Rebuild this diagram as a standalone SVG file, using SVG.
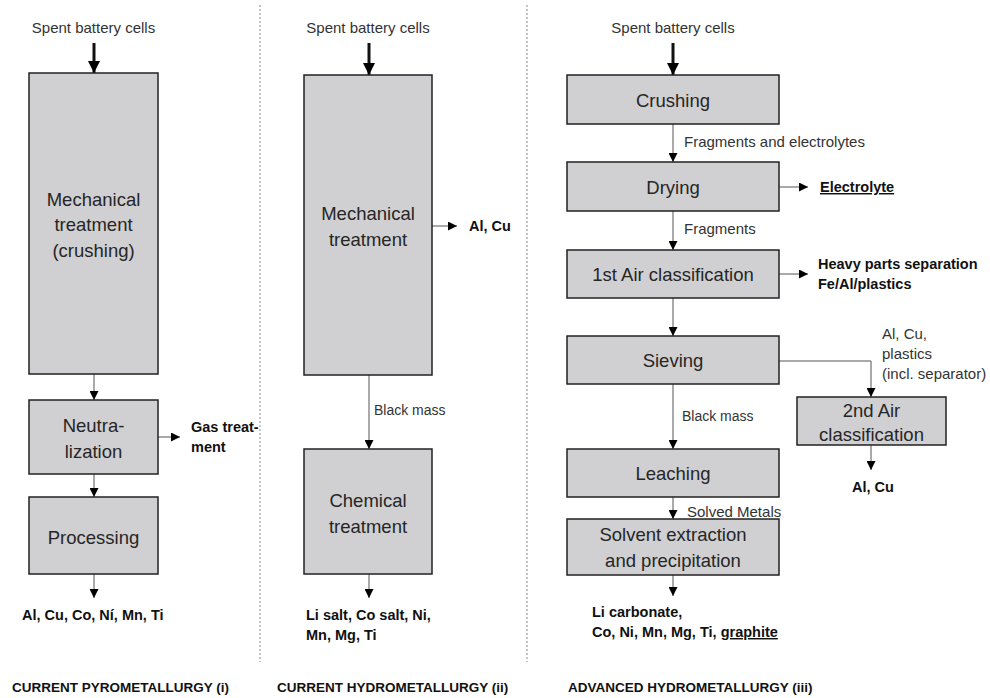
<svg xmlns="http://www.w3.org/2000/svg" width="990" height="698" viewBox="0 0 990 698">
<style>
.box{fill:#d0cfd1;stroke:#222;stroke-width:1.5}
.bt{font-family:"Liberation Sans",Arial,sans-serif;font-size:18.5px;fill:#262626;text-anchor:middle}
.lb{font-family:"Liberation Sans",Arial,sans-serif;font-size:15px;fill:#333}
.bd{font-family:"Liberation Sans",Arial,sans-serif;font-size:14.5px;font-weight:bold;fill:#111}
.hd{font-family:"Liberation Sans",Arial,sans-serif;font-size:13.5px;font-weight:bold;fill:#111}
.ln{fill:none;stroke:#555;stroke-width:1}
.tk{fill:none;stroke:#111;stroke-width:3}
.sep{stroke:#8a8a8a;stroke-width:1;stroke-dasharray:2 2}
</style>
<defs>
<marker id="ah" viewBox="0 0 10 10" refX="10" refY="5" markerWidth="9" markerHeight="9" markerUnits="userSpaceOnUse" orient="auto"><path d="M0,0 L10,5 L0,10 Z" fill="#000"/></marker>
<marker id="ahk" viewBox="0 0 10 10" refX="10" refY="5" markerWidth="12" markerHeight="12" markerUnits="userSpaceOnUse" orient="auto"><path d="M0,0 L10,5 L0,10 Z" fill="#000"/></marker>
</defs>
<g id="separators">
<line class="sep" x1="260" y1="5" x2="260" y2="662"/>
<line class="sep" x1="527" y1="5" x2="527" y2="662"/>
</g>
<g id="connectors">
<line class="tk" x1="94" y1="43" x2="94" y2="73" marker-end="url(#ahk)"/>
<line class="ln" x1="94" y1="374" x2="94" y2="400" marker-end="url(#ah)"/>
<line class="ln" x1="158" y1="437" x2="180" y2="437" marker-end="url(#ah)"/>
<line class="ln" x1="94" y1="474" x2="94" y2="497" marker-end="url(#ah)"/>
<line class="ln" x1="94" y1="574" x2="94" y2="598" marker-end="url(#ah)"/>
<line class="tk" x1="369" y1="43" x2="369" y2="75" marker-end="url(#ahk)"/>
<line class="ln" x1="432" y1="226" x2="457" y2="226" marker-end="url(#ah)"/>
<line class="ln" x1="369" y1="375" x2="369" y2="449" marker-end="url(#ah)"/>
<line class="ln" x1="369" y1="574" x2="369" y2="598" marker-end="url(#ah)"/>
<line class="tk" x1="673" y1="43" x2="673" y2="75" marker-end="url(#ahk)"/>
<line class="ln" x1="673" y1="124" x2="673" y2="162" marker-end="url(#ah)"/>
<line class="ln" x1="779" y1="187" x2="808" y2="187" marker-end="url(#ah)"/>
<line class="ln" x1="673" y1="211" x2="673" y2="250" marker-end="url(#ah)"/>
<line class="ln" x1="779" y1="274" x2="808" y2="274" marker-end="url(#ah)"/>
<line class="ln" x1="673" y1="298" x2="673" y2="336" marker-end="url(#ah)"/>
<polyline class="ln" points="779,361 871,361 871,397" marker-end="url(#ah)"/>
<line class="ln" x1="871" y1="445" x2="871" y2="470" marker-end="url(#ah)"/>
<line class="ln" x1="673" y1="384" x2="673" y2="449" marker-end="url(#ah)"/>
<line class="ln" x1="673" y1="497" x2="673" y2="519" marker-end="url(#ah)"/>
<line class="ln" x1="673" y1="575" x2="673" y2="596" marker-end="url(#ah)"/>
</g>
<g id="pyro-mech"><rect class="box" x="29" y="73" width="129" height="301"/><text class="bt" x="93.5" y="206">Mechanical</text><text class="bt" x="93.5" y="231">treatment</text><text class="bt" x="93.5" y="257">(crushing)</text></g>
<g id="pyro-neutral"><rect class="box" x="29" y="400" width="129" height="74"/><text class="bt" x="93.5" y="432">Neutra-</text><text class="bt" x="93.5" y="458">lization</text></g>
<g id="pyro-proc"><rect class="box" x="29" y="497" width="129" height="77"/><text class="bt" x="93.5" y="544">Processing</text></g>
<g id="hydro-mech"><rect class="box" x="304" y="75" width="128" height="300"/><text class="bt" x="368" y="219.5">Mechanical</text><text class="bt" x="368" y="245.5">treatment</text></g>
<g id="hydro-chem"><rect class="box" x="304" y="449" width="128" height="125"/><text class="bt" x="368" y="506.5">Chemical</text><text class="bt" x="368" y="532.5">treatment</text></g>
<g id="adv-crush"><rect class="box" x="567" y="75" width="212" height="49"/><text class="bt" x="673" y="106.5">Crushing</text></g>
<g id="adv-dry"><rect class="box" x="567" y="162" width="212" height="49"/><text class="bt" x="673" y="193.5">Drying</text></g>
<g id="adv-air1"><rect class="box" x="567" y="250" width="212" height="48"/><text class="bt" x="673" y="280.5">1st Air classification</text></g>
<g id="adv-sieve"><rect class="box" x="567" y="336" width="212" height="48"/><text class="bt" x="673" y="366.5">Sieving</text></g>
<g id="adv-air2"><rect class="box" x="797" y="397" width="149" height="48"/><text class="bt" x="871.5" y="416.5">2nd Air</text><text class="bt" x="871.5" y="440.5">classification</text></g>
<g id="adv-leach"><rect class="box" x="567" y="449" width="212" height="48"/><text class="bt" x="673" y="479.5">Leaching</text></g>
<g id="adv-solvent"><rect class="box" x="567" y="519" width="212" height="56"/><text class="bt" x="673" y="540.5">Solvent extraction</text><text class="bt" x="673" y="566.5">and precipitation</text></g>
<g id="labels">
<text class="lb" x="93.5" y="33" text-anchor="middle">Spent battery cells</text>
<text class="lb" x="368" y="33" text-anchor="middle">Spent battery cells</text>
<text class="lb" x="673" y="33" text-anchor="middle">Spent battery cells</text>
<text class="bd" x="191" y="432">Gas treat-</text>
<text class="bd" x="191" y="452">ment</text>
<text class="bd" x="22" y="620">Al, Cu, Co, Ní, Mn, Ti</text>
<text class="hd" x="12" y="692">CURRENT PYROMETALLURGY (i)</text>
<text class="bd" x="469" y="231">Al, Cu</text>
<text class="lb" x="374" y="415" style="font-size:14px">Black mass</text>
<text class="bd" x="306" y="620">Li salt, Co salt, Ni,</text>
<text class="bd" x="306" y="640">Mn, Mg, Ti</text>
<text class="hd" x="277" y="692">CURRENT HYDROMETALLURGY (ii)</text>
<text class="lb" x="684" y="147">Fragments and electrolytes</text>
<text class="bd" x="820" y="192" text-decoration="underline">Electrolyte</text>
<text class="lb" x="684" y="234">Fragments</text>
<text class="bd" x="818" y="269">Heavy parts separation</text>
<text class="bd" x="818" y="289">Fe/Al/plastics</text>
<text class="lb" x="882" y="339">Al, Cu,</text>
<text class="lb" x="882" y="359">plastics</text>
<text class="lb" x="882" y="379">(incl. separator)</text>
<text class="lb" x="682" y="421" style="font-size:14px">Black mass</text>
<text class="bd" x="852" y="492">Al, Cu</text>
<text class="lb" x="687" y="517">Solved Metals</text>
<text class="bd" x="592" y="617">Li carbonate,</text>
<text class="bd" x="592" y="637">Co, Ni, Mn, Mg, Ti, <tspan text-decoration="underline">graphite</tspan></text>
<text class="hd" x="568" y="692">ADVANCED HYDROMETALLURGY (iii)</text>
</g>
</svg>
